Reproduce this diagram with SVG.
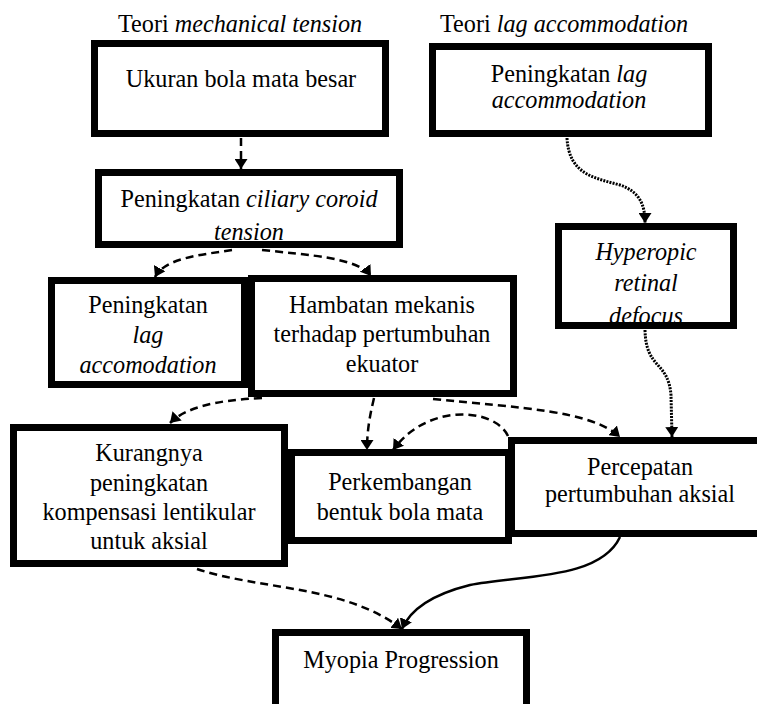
<svg xmlns="http://www.w3.org/2000/svg" width="757" height="704" viewBox="0 0 757 704" font-family="'Liberation Serif', 'Times New Roman', Times, 'DejaVu Serif', serif">
<style>
.box{fill:#fff;stroke:#000;stroke-width:7}
.t{font-family:'Liberation Serif', 'Times New Roman', Times, 'DejaVu Serif', serif;font-size:24.2px;fill:#000}
.c{text-anchor:middle}
.i{font-style:italic}
.con{fill:none;stroke:#000;stroke-width:2.5}
.dash{stroke-dasharray:8 5}
.dot{stroke-dasharray:2 1.2;stroke-width:3}
</style>
<defs>
<marker id="ah" viewBox="0 0 10 10" refX="10" refY="5" markerWidth="10" markerHeight="13" markerUnits="userSpaceOnUse" orient="auto" preserveAspectRatio="none">
<path d="M0,0 L10,5 L0,10 z" fill="#000"/>
</marker>
</defs>
<rect width="757" height="704" fill="#fff"/>
<g id="titles" class="t">
<text x="118" y="32">Teori <tspan class="i">mechanical tension</tspan></text>
<text x="440" y="31.5">Teori <tspan class="i">lag accommodation</tspan></text>
</g>
<g id="n1" class="t">
<rect class="box" x="94.5" y="43.5" width="291" height="90"/>
<text class="c" x="241" y="87">Ukuran bola mata besar</text>
</g>
<g id="n2" class="t">
<rect class="box" x="98.5" y="172.5" width="301" height="72"/>
<text class="c" x="249" y="207">Peningkatan <tspan class="i">ciliary coroid</tspan></text>
<text class="c i" x="249" y="240">tension</text>
</g>
<g id="n3" class="t">
<rect class="box" x="432.5" y="46.5" width="276" height="87"/>
<text class="c" x="569" y="82">Peningkatan <tspan class="i">lag</tspan></text>
<text class="c i" x="569" y="108">accommodation</text>
</g>
<g id="n4" class="t">
<rect class="box" x="558.5" y="226.5" width="175" height="99"/>
<text class="c i" x="646" y="260">Hyperopic</text>
<text class="c i" x="646" y="291">retinal</text>
<text class="c i" x="646" y="324">defocus</text>
</g>
<g id="n5" class="t">
<rect class="box" x="51.5" y="280.5" width="193" height="104"/>
<text class="c" x="148" y="313">Peningkatan</text>
<text class="c i" x="148" y="343">lag</text>
<text class="c i" x="148" y="373">accomodation</text>
</g>
<g id="n6" class="t">
<rect class="box" x="251.5" y="278.5" width="262" height="115"/>
<text class="c" x="382" y="313">Hambatan mekanis</text>
<text class="c" x="382" y="342">terhadap pertumbuhan</text>
<text class="c" x="382" y="372">ekuator</text>
</g>
<g id="n7" class="t">
<rect class="box" x="13.5" y="427.5" width="271" height="136"/>
<text class="c" x="149" y="461">Kurangnya</text>
<text class="c" x="149" y="491">peningkatan</text>
<text class="c" x="149" y="520">kompensasi lentikular</text>
<text class="c" x="149" y="549">untuk aksial</text>
</g>
<g id="n8" class="t">
<rect class="box" x="291.5" y="452.5" width="217" height="88"/>
<text class="c" x="400" y="490">Perkembangan</text>
<text class="c" x="400" y="520">bentuk bola mata</text>
</g>
<g id="n9" class="t">
<rect class="box" x="511.5" y="440.5" width="257" height="93"/>
<text class="c" x="640" y="475">Percepatan</text>
<text class="c" x="640" y="502">pertumbuhan aksial</text>
</g>
<g id="n10" class="t">
<rect class="box" x="275.5" y="632.5" width="251" height="80"/>
<text class="c" x="401" y="668">Myopia Progression</text>
</g>
<g id="connectors">
<path class="con dash" d="M241 138 L241 169" marker-end="url(#ah)"/>
<path class="con dash" d="M232 250 C200 255 165 258 155 277" marker-end="url(#ah)"/>
<path class="con dash" d="M262 250 C310 255 358 258 371 276" marker-end="url(#ah)"/>
<path class="con dot" d="M567 138 C569 175 595 178 620 185 C640 192 645 205 645 223" marker-end="url(#ah)"/>
<path class="con dot" d="M645 330 C646 370 668 360 671 395 L672 437" marker-end="url(#ah)"/>
<path class="con dash" d="M262 398 C215 400 185 408 170 423" marker-end="url(#ah)"/>
<path class="con dash" d="M374 398 C370 415 367 430 367 450" marker-end="url(#ah)"/>
<path class="con dash" d="M508 436 C495 408 428 402 393 450" marker-end="url(#ah)"/>
<path class="con dash" d="M433 399 C520 408 590 410 620 437" marker-end="url(#ah)"/>
<path class="con dash" d="M197 569 C260 590 345 585 402 629" marker-end="url(#ah)"/>
<path class="con" d="M620 537 C600 580 520 575 470 585 C430 595 410 610 402 629" marker-end="url(#ah)"/>
</g>
</svg>
